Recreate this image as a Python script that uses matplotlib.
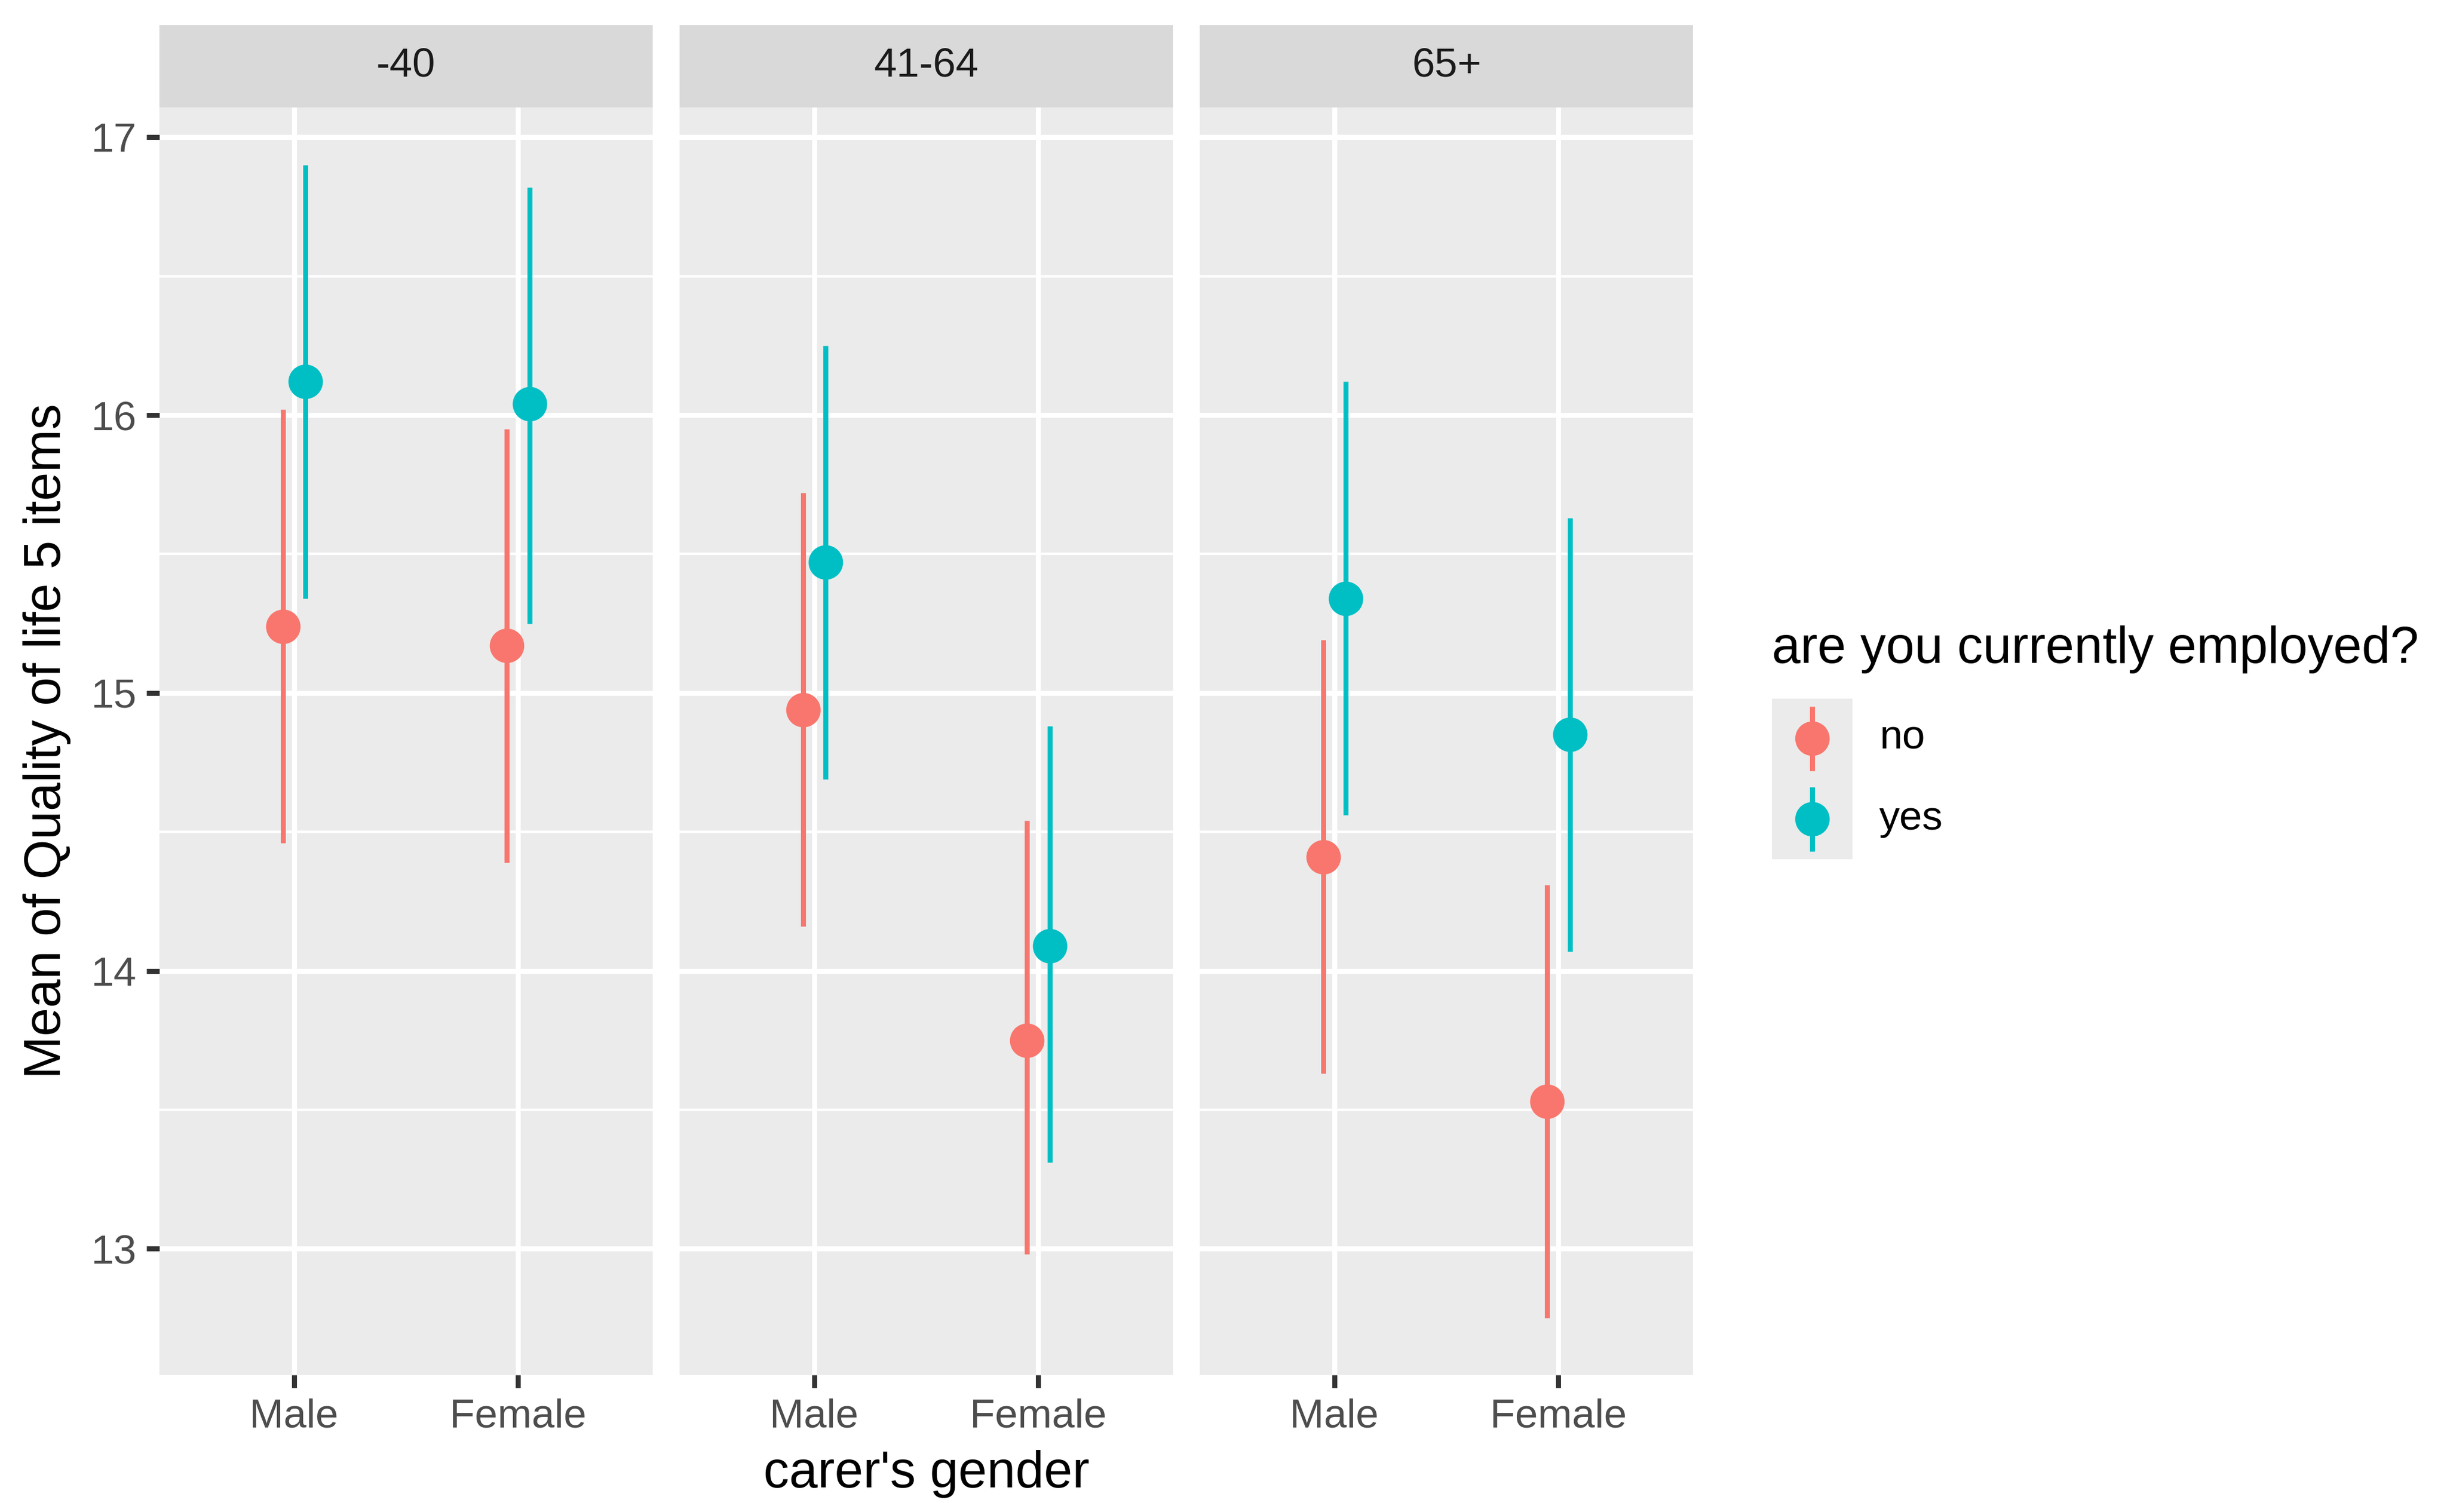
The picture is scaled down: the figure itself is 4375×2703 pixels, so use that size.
import numpy as np
import matplotlib
matplotlib.use("Agg")
import matplotlib.pyplot as plt
from matplotlib.ticker import FixedLocator

plt.rcParams['font.family'] = ['Liberation Sans', 'DejaVu Sans']

# data
age_groups = ["-40", "41-64", "65+"]
genders = ["Male", "Female"]
employed = ["no", "yes"]
colors = {"no": "#F8766D", "yes": "#00BFC4"}

# means[age][employed] -> values for Male, Female
means = {
    "-40":   {"no": [15.24, 15.17], "yes": [16.12, 16.04]},
    "41-64": {"no": [14.94, 13.75], "yes": [15.47, 14.09]},
    "65+":   {"no": [14.41, 13.53], "yes": [15.34, 14.85]},
}
lower = {
    "-40":   {"no": [14.46, 14.39], "yes": [15.34, 15.25]},
    "41-64": {"no": [14.16, 12.98], "yes": [14.69, 13.31]},
    "65+":   {"no": [13.63, 12.75], "yes": [14.56, 14.07]},
}
upper = {
    "-40":   {"no": [16.02, 15.95], "yes": [16.90, 16.82]},
    "41-64": {"no": [15.72, 14.54], "yes": [16.25, 14.88]},
    "65+":   {"no": [15.19, 14.31], "yes": [16.12, 15.63]},
}

dodge = {"no": -0.05, "yes": 0.05}
lw = 1.07
ms = 7.4

fig = plt.figure(figsize=(4375 / 600, 2703 / 600), dpi=600)

lefts = [285 / 4375, 1215 / 4375, 2145 / 4375]
pw = 882 / 4375
pb = 0.0907
ph = 0.9291 - pb
sh = 0.9833 - 0.9291

for i, age in enumerate(age_groups):
    ax = fig.add_axes([lefts[i], pb, pw, ph])
    ax.set_facecolor("#EBEBEB")
    for s in ax.spines.values():
        s.set_visible(False)
    ax.set_xlim(-0.6, 1.6)
    ax.set_ylim(12.546, 17.108)
    ax.yaxis.set_major_locator(FixedLocator([13, 14, 15, 16, 17]))
    ax.yaxis.set_minor_locator(FixedLocator([13.5, 14.5, 15.5, 16.5]))
    ax.set_xticks(range(len(genders)))
    ax.set_xticklabels(genders)
    ax.grid(True, which="major", color="white", lw=lw)
    ax.grid(True, which="minor", axis="y", color="white", lw=lw / 2)
    ax.set_axisbelow(True)
    ax.tick_params(axis="both", which="major", length=2.75, width=lw, color="#333333",
                   labelsize=8.8, labelcolor="#4D4D4D", pad=2.2)
    ax.tick_params(axis="y", which="minor", length=0)
    if i > 0:
        ax.tick_params(axis="y", which="major", length=0, labelleft=False)

    x = np.arange(len(genders))
    for emp in employed:
        xs = x + dodge[emp]
        ax.vlines(xs, lower[age][emp], upper[age][emp], color=colors[emp], lw=lw, zorder=3)
        ax.plot(xs, means[age][emp], "o", color=colors[emp], ms=ms, mec="none", zorder=4)

    sax = fig.add_axes([lefts[i], 0.9291, pw, sh])
    sax.set_facecolor("#D9D9D9")
    sax.set_xticks([])
    sax.set_yticks([])
    for s in sax.spines.values():
        s.set_visible(False)
    sax.text(0.5, 0.5, age, ha="center", va="center", fontsize=8.8, color="#1A1A1A",
             transform=sax.transAxes)

fig.text(0.0193, pb + ph / 2, "Mean of Quality of life 5 items", rotation=90,
         ha="center", va="center", fontsize=11)
fig.text((lefts[0] + lefts[2] + pw) / 2, 0.025, "carer's gender",
         ha="center", va="center", fontsize=11)

# legend
fig.text(0.7242, 0.5704, "are you currently employed?", ha="left", va="center", fontsize=11)
kax = fig.add_axes([0.7242, 0.4317, 0.0329, 0.1064])
kax.set_facecolor("#EBEBEB")
kax.set_xlim(0, 1)
kax.set_ylim(0, 2)
kax.set_xticks([])
kax.set_yticks([])
for s in kax.spines.values():
    s.set_visible(False)
for j, emp in enumerate(employed):
    yc = 1.5 - j
    kax.vlines(0.5, yc - 0.4, yc + 0.4, color=colors[emp], lw=lw)
    kax.plot(0.5, yc, "o", color=colors[emp], ms=ms, mec="none")
    fig.text(0.768, 0.4317 + 0.1064 * (0.75 - 0.5 * j), emp, ha="left", va="center", fontsize=8.8)

fig.savefig("out.png", dpi=600, facecolor="white")
